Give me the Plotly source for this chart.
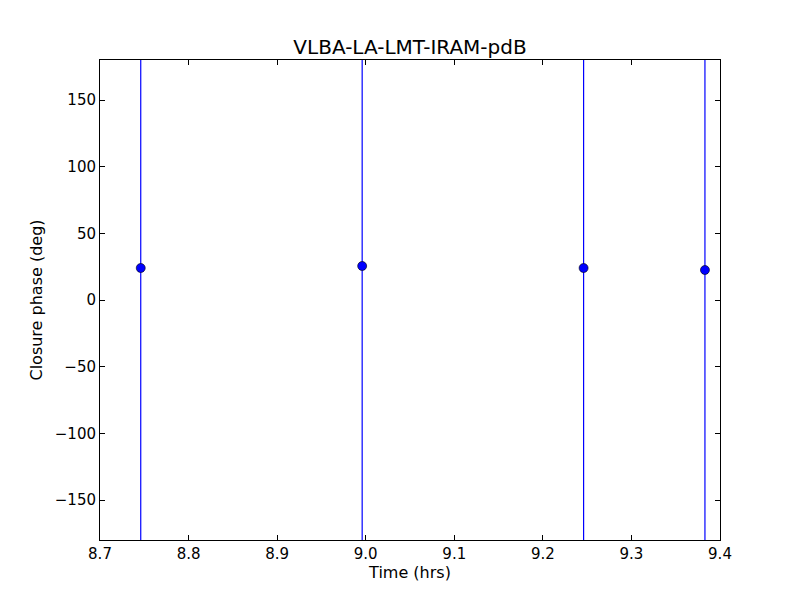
import plotly.graph_objects as go

# closure phase samples (hours, degrees)
time_hrs = [8.746, 8.996, 9.246, 9.383]
cphase_deg = [24.0, 25.5, 24.0, 22.5]
cphase_err = [360.0, 360.0, 360.0, 360.0]

x_ticks = [8.7, 8.8, 8.9, 9.0, 9.1, 9.2, 9.3, 9.4]
x_labels = ["8.7", "8.8", "8.9", "9.0", "9.1", "9.2", "9.3", "9.4"]
y_ticks = [-150, -100, -50, 0, 50, 100, 150]

fig = go.Figure()
fig.add_trace(
    go.Scatter(
        x=time_hrs,
        y=cphase_deg,
        mode="markers",
        marker=dict(color="#0000ff", size=9, line=dict(color="black", width=0.6)),
        error_y=dict(
            type="data",
            array=cphase_err,
            visible=True,
            color="#0000ff",
            thickness=1.2,
            width=0,
        ),
        showlegend=False,
    )
)

axis_style = dict(
    showgrid=False,
    zeroline=False,
    showline=True,
    linecolor="black",
    linewidth=1,
    mirror="ticks",
    ticks="inside",
    ticklen=5,
    tickwidth=1,
    tickcolor="black",
    tickfont=dict(family="DejaVu Sans", size=15, color="black"),
)

# the page body adds an 8px margin, so the plot margins are shifted to match
fig.update_layout(
    width=800,
    height=600,
    paper_bgcolor="white",
    plot_bgcolor="white",
    margin=dict(l=92, r=88, t=52, b=68),
    font=dict(family="DejaVu Sans", color="black"),
    title=dict(
        text="VLBA-LA-LMT-IRAM-pdB",
        x=0.5025,
        xanchor="center",
        y=0.935,
        yanchor="middle",
        font=dict(size=20, color="black"),
    ),
    xaxis=dict(
        range=[8.7, 9.4],
        tickvals=x_ticks,
        ticktext=x_labels,
        title=dict(text="Time (hrs)", font=dict(size=16), standoff=4),
        **axis_style,
    ),
    yaxis=dict(
        range=[-180, 180],
        tickvals=y_ticks,
        title=dict(text="Closure phase (deg)", font=dict(size=16), standoff=8),
        **axis_style,
    ),
)

fig.write_html("out.html")
